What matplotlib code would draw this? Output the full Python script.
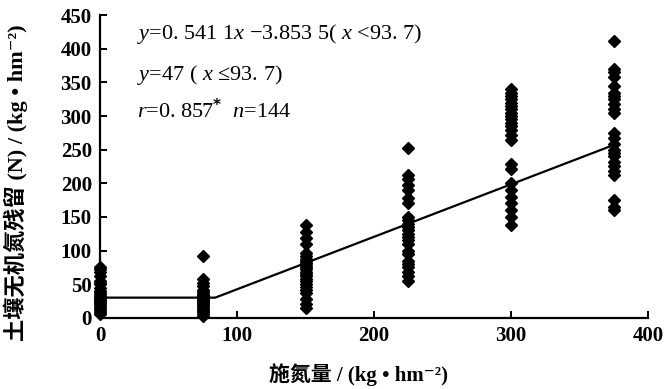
import numpy as np
import matplotlib
matplotlib.use('Agg')
import matplotlib.pyplot as plt

plt.rcParams['font.family'] = ['Liberation Serif', 'Noto Sans CJK SC', 'DejaVu Serif']
plt.rcParams['mathtext.fontset'] = 'custom'
plt.rcParams['mathtext.rm'] = 'Liberation Serif'
plt.rcParams['mathtext.it'] = 'Liberation Serif:italic'

# N rates (kg/hm2) and residual soil inorganic N
n_rates = [0, 75, 150, 225, 300, 375]
resid_0 = [5, 8, 12, 15, 18, 20, 22, 24, 25, 27, 28, 30, 32, 35, 38, 40, 45, 50, 52, 55, 62, 68, 72, 76]
resid_75 = [3, 6, 8, 10, 12, 15, 17, 18, 20, 22, 24, 25, 27, 28, 30, 32, 34, 36, 38, 42, 48, 52, 58, 92]
resid_150 = [15, 20, 28, 37, 42, 46, 50, 55, 58, 62, 65, 68, 72, 75, 78, 82, 85, 88, 92, 97, 110, 118, 127, 138]
resid_225 = [253, 212, 206, 198, 190, 178, 170, 150, 145, 140, 135, 130, 125, 120, 115, 110, 100, 95, 85, 80, 75, 68, 62, 55]
resid_300 = [340, 335, 330, 325, 320, 315, 310, 305, 300, 295, 290, 285, 280, 272, 265, 228, 222, 200, 190, 180, 170, 160, 150, 138]
resid_375 = [412, 370, 365, 358, 345, 335, 330, 325, 318, 310, 305, 275, 268, 258, 250, 245, 240, 232, 225, 218, 212, 175, 165, 160]
groups = [resid_0, resid_75, resid_150, resid_225, resid_300, resid_375]

# fitted broken-line as drawn
fit_x = [0, 84, 375]
fit_y = [30, 30, 257]

fig = plt.figure(figsize=(6.68, 3.89), dpi=100)
ax = fig.add_axes([0.150, 0.183, 0.820, 0.778])

for xv, ys in zip(n_rates, groups):
    ax.plot([xv] * len(ys), ys, linestyle='none', marker='D', markersize=6.5,
            color='black', clip_on=False, zorder=3)

ax.plot(fit_x, fit_y, color='black', linewidth=1.6, zorder=2)

ax.set_xlim(0, 400)
ax.set_ylim(0, 450)
ax.set_xticks([0, 100, 200, 300, 400])
ax.set_yticks(np.arange(0, 451, 50))
for s in ['top', 'right']:
    ax.spines[s].set_visible(False)
for s in ['left', 'bottom']:
    ax.spines[s].set_linewidth(1.6)
ax.tick_params(direction='in', length=5, width=1.4, labelsize=15, pad=6)
for lab in ax.get_xticklabels() + ax.get_yticklabels():
    lab.set_fontweight('bold')

ax.set_xlabel('施氮量 / (kg • hm⁻²)', fontsize=15, fontweight='bold', va='center')
ax.xaxis.set_label_coords(0.471, -0.188)
ax.set_ylabel('土壤无机氮残留 (N) / (kg • hm⁻²)', fontsize=16, fontweight='bold', va='center')
ax.yaxis.set_label_coords(-0.155, 0.447)

ax.text(0.068, 0.937, r'$\mathit{y}$=0. 541 1$\mathit{x}$ −3.853 5( $\mathit{x}$ <93. 7)',
        transform=ax.transAxes, fontsize=16, va='center')
ax.text(0.068, 0.802, r'$\mathit{y}$=47 ( $\mathit{x}$ ≤93. 7)',
        transform=ax.transAxes, fontsize=16, va='center')
ax.text(0.068, 0.686, r'$\mathit{r}$=0. 857$^{\mathbf{*}}$  $\mathit{n}$=144',
        transform=ax.transAxes, fontsize=16, va='center')

fig.savefig('out.png', dpi=100)
